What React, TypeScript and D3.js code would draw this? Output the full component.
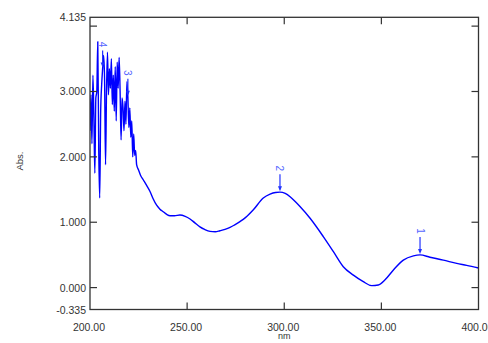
import React from 'react';
import * as d3 from 'd3';

// wavelength (nm) and absorbance
const wavelengths = [
  200.0, 200.5, 201.0, 201.5, 202.0, 202.5, 203.0, 203.5, 204.0, 204.5,
  205.0, 205.5, 206.0, 206.5, 207.0, 207.5, 208.0, 208.5, 209.0, 209.5,
  210.0, 210.5, 211.0, 211.5, 212.0, 212.5, 213.0, 213.5, 214.0, 214.5,
  215.0, 215.5, 216.0, 216.5, 217.0, 217.5, 218.0, 218.5, 219.0, 219.5,
  220.0, 220.5, 221.0, 221.5, 222.0, 222.5, 223.0, 223.5, 224.0, 225.0,
  226.0, 227.4, 229.0, 230.9, 232.5, 234.3, 236.0, 237.7, 239.5, 241.2,
  243.5, 246.3, 249.0, 251.5, 254.0, 256.6, 259.0, 261.8, 264.5, 266.9,
  269.5, 272.1, 274.5, 277.2, 280.0, 284.1, 289.2, 292.7, 295.5, 297.8,
  300.5, 303.0, 305.5, 308.1, 313.3, 320.1, 325.3, 330.4, 335.6, 340.7,
  345.0, 348.4, 351.9, 356.2, 361.3, 366.5, 369.9, 375.0, 381.9, 388.8,
  393.9, 400.0,
];
const absorbance = [
  2.40, 2.95, 2.20, 3.25, 2.60, 1.75, 2.90, 3.00, 3.76, 2.10,
  1.37, 2.70, 3.10, 3.35, 3.55, 3.20, 1.88, 3.00, 3.60, 2.95,
  3.35, 3.05, 3.50, 2.80, 3.25, 2.70, 3.38, 2.55, 3.45, 3.05,
  3.52, 3.00, 2.26, 2.90, 2.75, 2.40, 2.85, 2.50, 3.15, 2.92,
  2.45, 2.75, 2.30, 2.55, 2.00, 2.35, 2.02, 2.10, 1.88, 1.80,
  1.72, 1.65, 1.57, 1.47, 1.36, 1.26, 1.20, 1.16, 1.12, 1.10,
  1.10, 1.11, 1.09, 1.05, 0.99, 0.93, 0.89, 0.86, 0.855, 0.87,
  0.89, 0.92, 0.96, 1.01, 1.07, 1.19, 1.37, 1.43, 1.455, 1.46,
  1.44, 1.39, 1.32, 1.24, 1.06, 0.78, 0.55, 0.32, 0.19, 0.09,
  0.03, 0.04, 0.12, 0.27, 0.42, 0.485, 0.50, 0.465, 0.42, 0.37,
  0.34, 0.30,
];

// picked peaks
const peakLabels = ['1', '2', '3', '4'];
const peakNm = [369.9, 297.8, 219.5, 206.5];
const peakAbs = [0.50, 1.46, 2.92, 3.35];

const xTicks = [200, 250, 300, 350, 400];
const yTicks = [0, 1, 2, 3, 4];
const yEdgeLabels = [-0.335, 4.135];

const W = 488;
const H = 343;
const margin = { top: 17.3, right: 9.5, bottom: 33.5, left: 90 };

export default function App() {
  const x = d3.scaleLinear().domain([200, 400]).range([margin.left, W - margin.right]);
  const y = d3.scaleLinear().domain([-0.335, 4.135]).range([H - margin.bottom, margin.top]);

  const points = wavelengths.map((w, i) => [w, absorbance[i]] as [number, number]);
  const line = d3.line<[number, number]>()
    .x(d => x(d[0]))
    .y(d => y(d[1]))
    .curve(d3.curveMonotoneX);

  const x0 = x(200), x1 = x(400), yTop = y(4.135), yBot = y(-0.335);
  const tickLen = 7;
  const axisColor = '#333';
  const font = 'Liberation Sans, Arial, sans-serif';

  return (
    <svg width={W} height={H} style={{ position: 'absolute', left: 0, top: 0, background: '#fff' }}>
      {/* spectrum */}
      <g clipPath="url(#plotClip)">
        <path d={line(points) || ''} fill="none" stroke="#0000ff" strokeWidth={1.4} strokeLinejoin="round" />
      </g>
      <defs>
        <clipPath id="plotClip">
          <rect x={x0} y={yTop} width={x1 - x0} height={yBot - yTop} />
        </clipPath>
      </defs>

      {/* peak markers */}
      {peakNm.map((p, i) => {
        const px = x(p);
        const py = y(peakAbs[i]);
        return (
          <g key={peakLabels[i]}>
            <line x1={px} x2={px} y1={py - 18} y2={py - 3} stroke="#2233ff" strokeWidth={1.2} />
            <path d={`M${px - 2},${py - 6} L${px + 2},${py - 6} L${px},${py - 1} Z`} fill="#2233ff" />
            <text
              transform={`translate(${px},${py - 24}) rotate(90)`}
              textAnchor="middle"
              dominantBaseline="central"
              fontFamily={font}
              fontSize={10}
              fill="#5566ff"
            >
              {peakLabels[i]}
            </text>
          </g>
        );
      })}

      {/* frame */}
      <rect x={x0} y={yTop} width={x1 - x0} height={yBot - yTop} fill="none" stroke={axisColor} strokeWidth={1.3} />

      {/* y ticks, both sides, inward */}
      {yTicks.map(t => (
        <g key={`y${t}`}>
          <line x1={x0} x2={x0 + tickLen} y1={y(t)} y2={y(t)} stroke={axisColor} strokeWidth={1.2} />
          <line x1={x1} x2={x1 - tickLen} y1={y(t)} y2={y(t)} stroke={axisColor} strokeWidth={1.2} />
        </g>
      ))}
      {/* x ticks, top and bottom, inward */}
      {xTicks.slice(1, -1).map(t => (
        <g key={`x${t}`}>
          <line x1={x(t)} x2={x(t)} y1={yBot} y2={yBot - tickLen} stroke={axisColor} strokeWidth={1.2} />
          <line x1={x(t)} x2={x(t)} y1={yTop} y2={yTop + tickLen} stroke={axisColor} strokeWidth={1.2} />
        </g>
      ))}

      {/* y labels */}
      {yTicks.filter(t => t <= 3).concat(yEdgeLabels).map(t => (
        <text
          key={`yl${t}`}
          x={x0 - 4}
          y={y(t)}
          textAnchor="end"
          dominantBaseline="central"
          fontFamily={font}
          fontSize={10.5}
          fill={axisColor}
        >
          {t.toFixed(3)}
        </text>
      ))}

      {/* x labels */}
      {xTicks.map(t => (
        <text
          key={`xl${t}`}
          x={x(t) - 1}
          y={yBot + 17}
          textAnchor="middle"
          dominantBaseline="central"
          fontFamily={font}
          fontSize={10.5}
          fill={axisColor}
        >
          {t.toFixed(2)}
        </text>
      ))}

      {/* axis titles */}
      <text x={x(300)} y={339} textAnchor="middle" fontFamily={font} fontSize={9} fill={axisColor}>nm</text>
      <text
        transform={`translate(19,161) rotate(-90)`}
        textAnchor="middle"
        dominantBaseline="central"
        fontFamily={font}
        fontSize={9.5}
        fill={axisColor}
      >
        Abs.
      </text>
    </svg>
  );
}
